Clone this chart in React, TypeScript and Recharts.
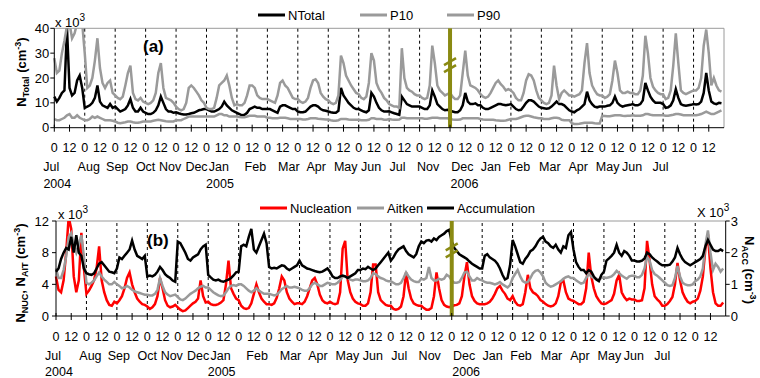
import React from "react";
import { LineChart, Line, XAxis, YAxis, ReferenceLine } from "recharts";

// 22 monthly diurnal cycles (2-hourly means), gap Aug-Oct 2005 marked by the olive break
const MONTHS = ["Jul", "Aug", "Sep", "Oct", "Nov", "Dec", "Jan", "Feb", "Mar", "Apr", "May", "Jun", "Jul", "Nov", "Dec", "Jan", "Feb", "Mar", "Apr", "May", "Jun", "Jul"];
const HOURS = [0, 2, 4, 6, 8, 10, 12, 14, 16, 18, 20, 22];
const YEARS = ["2004", "2005", "2006"];
const YEAR_MONTH = [0, 6, 14];
const BREAK_MONTH = 13;

// panel (a), x 10^3 cm-3
const N_TOTAL = [
  [12.5, 10.5, 12, 14, 15, 40, 16, 13, 14, 19, 21, 16],
  [8, 8.5, 9, 10, 12, 17, 10.5, 9, 8.5, 8, 9.5, 8],
  [8.5, 7.5, 6.5, 7, 7.5, 9, 11.5, 8, 6.5, 6.5, 8, 6.5],
  [6, 5.5, 5.5, 6, 7, 9, 12.5, 10, 7.5, 6.5, 6.5, 6],
  [6.2, 5.8, 5.5, 5.3, 5.3, 5.5, 5.8, 6, 6.5, 7, 7.2, 7.5],
  [7.5, 7, 6.5, 6.5, 7, 7.5, 8.5, 10.5, 9, 8, 7, 6.5],
  [6, 5.5, 5, 5.2, 6, 7.5, 8, 8.5, 8, 8, 7.5, 7.5],
  [7.5, 7.5, 7, 6.5, 6, 8.5, 9, 9, 8.5, 8, 7.5, 7.5],
  [6.5, 6.2, 6.2, 6.5, 7.5, 8.5, 9, 9, 8.5, 7.5, 7, 6.8],
  [6.5, 6.2, 6, 6, 6.8, 16, 13, 11.5, 10, 9, 8, 7.5],
  [7.5, 7, 6.5, 6.2, 7, 14, 12.5, 10, 8, 7, 6.5, 6.5],
  [6.6, 6.2, 5.8, 5.5, 5.2, 12.5, 11, 9.5, 9, 8.5, 8.5, 8.5],
  [8.5, 8, 7.5, 7.5, 9, 15, 12.5, 9.5, 8.5, 7.5, 7, 7.2],
  [7, 6.5, 6.2, 6.2, 7, 9, 14, 10.5, 9.5, 9.5, 9.8, 9],
  [9, 8, 7.5, 7.5, 8, 8.5, 9, 9.5, 9.5, 9.2, 9, 9.2],
  [9.5, 8.5, 7.5, 7, 7.2, 8.5, 10, 11, 11, 10.5, 9.5, 8.5],
  [8, 7.8, 7.6, 7.8, 8.5, 9.5, 10.5, 9.5, 9.5, 9, 8, 7],
  [6.5, 6.2, 7, 7.5, 8.5, 9.5, 14.5, 11, 9.5, 8.5, 8.2, 8.5],
  [8.5, 8.5, 8.8, 9, 10, 12.5, 10, 9, 8.5, 8.8, 9, 9.2],
  [9.5, 9, 9, 9.5, 11, 18, 15, 12.5, 11, 10, 10, 10],
  [9.5, 8, 8.2, 9, 11, 15.5, 12, 9.5, 9, 8.8, 9, 9.2],
  [9.5, 9.3, 9.5, 10.5, 14, 22, 15, 10.5, 9.8, 9.5, 10, 9.8],
];
const P10 = [
  [3.5, 3, 3, 3.5, 4, 5, 5.5, 4, 4, 5, 4, 3.5],
  [3, 3, 3.5, 4.5, 4, 4.5, 4, 3.5, 3, 3, 3, 2.8],
  [2.5, 2, 1.8, 2, 2.2, 2.5, 2.5, 2.2, 2, 2, 2.2, 2.5],
  [2.5, 2.5, 2.5, 2.8, 3, 3.2, 3, 2.8, 2.6, 2.5, 2.5, 2.5],
  [3, 3, 3, 3.5, 4, 4.5, 4.5, 4.5, 4.5, 4.5, 4.5, 4.5],
  [4.5, 4.5, 4.5, 4.5, 5, 5.5, 5.5, 5, 5, 4.5, 4.5, 4.5],
  [4.5, 4.3, 4.2, 4.2, 4.5, 4.8, 4.8, 4.8, 4.5, 4.5, 4.5, 4.5],
  [4, 4, 3.8, 3.8, 3.8, 4, 4, 4, 3.8, 3.5, 3.5, 3.5],
  [3.5, 3.5, 3.3, 3.3, 3.5, 3.8, 3.8, 3.8, 3.6, 3.5, 3.4, 3.3],
  [3.3, 3, 2.8, 2.8, 3, 3.5, 3.5, 3.5, 3.3, 3.2, 3.2, 3.2],
  [3.2, 3, 3, 3, 3.2, 3.8, 3.8, 3.5, 3.5, 3.5, 3.2, 3.2],
  [3.5, 3.3, 3.2, 3.2, 3.3, 4, 4, 3.8, 3.8, 3.8, 3.8, 3.8],
  [3.8, 3.8, 3.6, 3.6, 3.8, 4, 4, 4, 3.8, 3.8, 3.8, 3.8],
  [3.5, 3.3, 3.2, 3.2, 3.3, 3.8, 3.8, 3.8, 3.8, 3.8, 3.8, 3.8],
  [3.5, 3.3, 3.2, 3.2, 3.2, 3.2, 3, 2.9, 2.8, 2.8, 2.9, 3.2],
  [3.5, 3.5, 3.5, 3.8, 4.2, 4.6, 4.8, 4.8, 4.5, 4.2, 4, 3.8],
  [3.8, 3.5, 3.5, 3.5, 3.8, 4, 4, 3.8, 3.2, 3, 3, 3],
  [1.8, 1.5, 1.5, 1.6, 1.8, 2, 2, 2, 2, 1.8, 1.7, 1.7],
  [4.8, 4.7, 4.6, 4.6, 4.8, 5, 5, 5, 4.8, 4.7, 4.8, 4.8],
  [5, 4.8, 4.8, 4.8, 5, 5.5, 5.5, 5.2, 5, 5, 5, 5],
  [5, 4.8, 4.8, 5, 5.2, 5.5, 5.5, 5.3, 5, 5, 5, 5],
  [5, 5, 5.2, 5.5, 6, 6.5, 6, 5.5, 5.5, 6, 6.5, 7],
];
const P90 = [
  [28, 22, 23, 30, 35, 41, 42, 36, 38, 42, 42, 42],
  [30, 16, 17, 20, 27, 36, 24, 18, 16, 18, 19, 14],
  [13, 12, 11.5, 12.5, 17, 22, 25, 14, 11.5, 11, 12, 10.5],
  [10, 9.5, 10, 11, 14, 22, 26, 16, 12, 11.5, 11, 10],
  [8.5, 7.5, 7, 7.5, 10, 16, 17, 16, 14.5, 13, 11, 10],
  [8, 7.5, 7.5, 8, 12, 17, 18, 19, 21, 17, 12, 9],
  [9.5, 9, 9, 10, 13, 17, 17, 16, 13, 12, 11.5, 11.5],
  [11.5, 11, 10.5, 10, 13, 18, 19, 17, 16, 14, 12, 11.5],
  [11.5, 10.5, 10, 10.5, 12, 16, 19, 19.5, 18, 14, 12.5, 11.5],
  [11, 10, 9.5, 10, 13, 29, 26, 21, 19, 17, 15.5, 14],
  [13.5, 12, 11.5, 12.5, 18, 30, 27, 18, 15.5, 14, 12, 11],
  [9.5, 9, 8.5, 8.5, 8, 32, 20, 16, 15, 14.5, 13.5, 13],
  [13, 12, 11.5, 12, 17, 33, 26, 17, 15, 14, 13, 13.5],
  [14, 12.5, 11.5, 11.5, 13, 22, 31, 21, 17, 16.5, 16, 15],
  [13.5, 12.5, 12, 12.5, 14, 16, 18, 19, 17.5, 16.5, 15, 15.5],
  [15, 14, 12, 11, 11, 14, 19, 21.5, 21, 19, 15, 12],
  [11, 10, 9.5, 10, 13, 25, 17, 11.5, 14, 15, 14, 13],
  [13, 12.5, 13, 13.5, 15, 26, 34, 22, 17, 15, 13.5, 13],
  [13, 12, 12.5, 13.5, 19, 27, 22, 15, 14, 14, 14.5, 14],
  [14, 13.5, 13.5, 15, 21, 37, 30, 20, 16.5, 15, 14, 13.5],
  [13.5, 11.5, 12, 15, 25, 38, 26, 15, 14, 13.5, 14, 14.5],
  [15, 15, 16, 20, 33, 39.5, 30, 17, 20, 17, 15, 14.5],
];

// panel (b): nucleation + Aitken on left axis, accumulation on right axis (x 10^3)
const NUC = [
  [5, 3.3, 3, 4.5, 8, 12.5, 11, 5, 3, 4.5, 10.5, 6],
  [2.8, 3.2, 3.8, 4.5, 6, 8.8, 4.5, 3, 2, 1.4, 1.3, 1.8],
  [1.6, 2, 2.5, 3.5, 4.8, 5.5, 4, 3, 2.2, 1.8, 1.5, 1.4],
  [1.2, 0.9, 1.1, 1.5, 2.5, 4.8, 3.5, 2, 1.3, 1.1, 1.2, 1.4],
  [1.1, 0.8, 0.6, 0.7, 1, 1.3, 1.6, 1.8, 2.2, 4.5, 2.5, 1.7],
  [1.8, 1.5, 1.4, 1.4, 1.5, 1.7, 2, 4, 7, 3.5, 2.8, 2.2],
  [2, 1.3, 1, 0.9, 1, 1.6, 2.8, 4, 3, 2.2, 1.8, 1.5],
  [1.5, 1.4, 1.6, 2.3, 3.5, 5, 4.5, 3, 2.2, 1.8, 1.5, 1.6],
  [1.6, 1.5, 1.8, 2.5, 3.5, 4.5, 4.8, 4, 2.7, 2, 1.7, 1.6],
  [1.8, 1.6, 1.5, 1.6, 3, 8.5, 9.5, 4.5, 3, 2.2, 1.8, 1.6],
  [1.5, 1.3, 1.3, 1.6, 3, 6.5, 6.5, 3, 2, 1.7, 1.4, 1.3],
  [1.3, 0.9, 0.8, 0.9, 1.2, 2.5, 5.5, 3.5, 2.2, 1.6, 1.4, 1.3],
  [1.3, 1, 0.8, 0.8, 1, 2.5, 5.5, 3.5, 2, 1.4, 1.2, 1.1],
  [1.2, 1.35, 1.4, 1.6, 2.5, 5, 6.8, 4, 2.5, 1.9, 1.6, 1.5],
  [1.5, 1.5, 1.6, 1.8, 2.2, 2.8, 3.5, 3.8, 3.2, 2.8, 2.2, 2],
  [2.5, 1.8, 1.4, 1.3, 1.5, 3, 5.2, 3.5, 3, 2.8, 2.5, 2],
  [1.8, 1.5, 1.3, 1.2, 1.3, 1.6, 2.5, 4.2, 4.5, 3, 2.2, 2],
  [1.9, 1.7, 1.5, 1.5, 1.8, 3.5, 8, 5, 3.5, 2.5, 2, 1.6],
  [1.5, 1.6, 1.8, 2, 2.8, 4.5, 5.2, 3, 2.4, 2, 2.2, 2.1],
  [2.1, 1.9, 1.9, 2, 3.5, 9.5, 7, 4, 2.5, 2.1, 1.8, 1.3],
  [1.3, 1.5, 1.9, 2.4, 4, 6.7, 4.5, 3, 2.3, 1.8, 1.6, 1.8],
  [1.9, 2.2, 3.2, 5, 8.5, 10.3, 6, 3, 1.6, 1.3, 1.3, 1.7],
];
const AIT = [
  [6, 4.8, 4.8, 5.8, 7.5, 10, 10.5, 9, 8, 9, 10.2, 7.5],
  [4.2, 4, 4.2, 4.5, 5, 5.5, 5, 4.6, 4.3, 4, 4, 4.3],
  [4, 3.8, 3.5, 3.6, 3.8, 3.6, 3.3, 3.1, 3, 2.9, 2.8, 2.7],
  [2.7, 2.6, 2.6, 2.8, 3.3, 4.8, 3.8, 3, 2.7, 2.5, 2.6, 2.7],
  [2.4, 2.1, 2, 2.2, 2.5, 2.8, 3, 3.2, 3.5, 3.7, 3.8, 3.6],
  [3.6, 3.3, 3, 2.8, 2.6, 2.5, 2.6, 3, 3.5, 3.8, 3.9, 3.8],
  [4, 4, 3.8, 3.5, 3.2, 3, 3.2, 3.5, 3.2, 3, 2.8, 2.8],
  [2.8, 2.7, 2.6, 2.7, 3, 3.4, 3.6, 3.8, 3.6, 3.6, 3.7, 3.6],
  [3.5, 3.3, 3.2, 3.2, 3.5, 4, 4.2, 4, 3.8, 3.8, 4, 4.2],
  [4.1, 4, 4, 4.2, 4.5, 5, 5, 4.8, 4.6, 4.5, 4.6, 4.6],
  [4.5, 4.4, 4.4, 4.5, 4.8, 5.4, 5.3, 5, 4.8, 4.7, 4.5, 4.4],
  [4.4, 4.2, 4, 4, 4.2, 4.8, 5.5, 5, 4.6, 4.4, 4.3, 4.3],
  [4.7, 4.6, 4.8, 6.2, 4.8, 4.5, 4.5, 4.7, 4.6, 4.7, 5.2, 5],
  [4.5, 4.2, 4.2, 4.3, 4.8, 5.5, 5.6, 5, 4.5, 4.5, 4.8, 4.6],
  [4.5, 4.3, 4.2, 4.2, 4.1, 4, 4.1, 4.3, 4, 3.8, 3.6, 3.9],
  [4.8, 5.3, 5.8, 5, 4.4, 4.2, 4.3, 4.8, 5.4, 5.7, 5.8, 5.5],
  [5, 4.2, 3.9, 3.7, 3.8, 4, 4.2, 4.4, 4.7, 4.9, 5, 4.8],
  [4.8, 4.5, 4.3, 4.1, 4.2, 4.8, 5.3, 5, 4.8, 4.7, 4.6, 4.8],
  [4.9, 4.8, 4.9, 5, 5.3, 5.7, 5.4, 5.1, 4.9, 4.7, 5, 5.1],
  [5.1, 4.9, 4.9, 5.2, 6, 7.5, 7, 5.8, 5.3, 5.1, 4.8, 4.5],
  [4.2, 3.9, 3.8, 3.9, 4.8, 6.3, 5, 4.2, 4, 3.9, 3.9, 4],
  [4.4, 4.6, 5, 6, 9, 10.8, 8, 5.8, 6.6, 6.2, 5.6, 6],
];
const ACC = [
  [1.4, 1.5, 1.8, 2, 2.15, 2.1, 2.5, 2, 2.55, 2, 1.9, 1.5],
  [1.35, 1.32, 1.3, 1.35, 1.5, 1.65, 1.7, 1.6, 1.5, 1.4, 1.38, 1.35],
  [1.5, 1.85, 1.8, 1.9, 2, 2.1, 2.38, 2.1, 1.9, 1.85, 1.8, 1.9],
  [1.25, 1.28, 1.25, 1.3, 1.4, 1.55, 1.45, 1.32, 1.25, 1.2, 1.12, 1.08],
  [2.35, 2.3, 2.15, 2, 1.8, 1.75, 1.85, 1.9, 1.95, 2.1, 2.2, 2.25],
  [1.3, 1.22, 1.15, 1.12, 1.15, 1.1, 1.08, 1.12, 1.15, 1.2, 1.28, 1.38],
  [1.4, 2.2, 2.25, 2.2, 2.5, 2.75, 2.1, 2, 2.2, 2.4, 2.6, 2.3],
  [1.55, 1.5, 1.52, 1.5, 1.55, 1.6, 1.58, 1.5, 1.45, 1.5, 1.55, 1.6],
  [1.75, 1.6, 1.55, 1.5, 1.48, 1.45, 1.42, 1.4, 1.38, 1.4, 1.45, 1.5],
  [1.4, 1.25, 1.2, 1.2, 1.25, 1.28, 1.25, 1.2, 1.25, 1.3, 1.35, 1.45],
  [1.45, 1.5, 1.48, 1.55, 1.5, 1.45, 1.5, 1.6, 1.7, 1.8, 1.9, 2],
  [1.75, 1.85, 2, 2.1, 2.15, 2.2, 2.05, 1.95, 1.9, 1.85, 1.95, 2.2],
  [2.35, 2.3, 2.38, 2.4, 2.35, 2.45, 2.4, 2.5, 2.55, 2.6, 2.68, 2.72],
  [2.35, 2.15, 2.05, 1.95, 1.9, 1.85, 1.8, 1.72, 1.65, 1.6, 1.55, 1.5],
  [1.5, 1.9, 1.95, 1.85, 1.8, 1.75, 1.65, 1.5, 1.3, 1.15, 1.2, 1.6],
  [2.4, 2.2, 1.95, 1.7, 1.65, 1.8, 1.9, 2.05, 2.1, 2.2, 2.35, 2.45],
  [2.5, 2.35, 2.3, 2.2, 2.15, 2.25, 2.1, 2, 2.2, 2.15, 2.55, 2.65],
  [2.1, 1.7, 1.55, 1.45, 1.45, 1.35, 1.45, 1.4, 1.25, 1.15, 1.1, 1.3],
  [1.4, 1.75, 1.82, 1.9, 2, 2.25, 2, 1.9, 2.05, 2, 1.9, 1.75],
  [1.75, 1.72, 1.72, 1.75, 1.82, 2, 1.95, 1.85, 1.78, 1.72, 1.65, 1.6],
  [1.6, 1.6, 1.62, 1.72, 1.85, 2.15, 1.95, 1.8, 1.7, 1.65, 1.6, 1.65],
  [1.7, 1.75, 1.8, 1.9, 2.2, 2.4, 2.25, 2.1, 2.05, 2.05, 2.1, 2.05],
];

// Excel-style month captions drift left of the month start; pixel nudges only
const MONTH_SHIFT = [-3, 4, 2, 0, -6, -10, -18, -12, -9, -12, -13, -18, -22, -22, -18, -20, -22, -22, -24, -25, -31, -33];
const YEAR_SHIFT = [3, -17, -16];

const FONT = "Arial, 'Liberation Sans', sans-serif";
const GRAY = "#9a9a9a";
const OLIVE = "#8a8a12";
const SPAN = MONTHS.length * 24;
const X_TICKS = MONTHS.flatMap((_, m) => [m * 24, m * 24 + 12]);

const topData = MONTHS.flatMap((_, m) =>
  HOURS.map((h, i) => ({ t: m * 24 + h, nTotal: N_TOTAL[m][i], p10: P10[m][i], p90: P90[m][i] })),
);
const bottomData = MONTHS.flatMap((_, m) =>
  HOURS.map((h, i) => ({ t: m * 24 + h, nuc: NUC[m][i], ait: AIT[m][i], acc: ACC[m][i] })),
);

function HourTick(props: any) {
  const { x, y, payload } = props;
  const v = payload.value as number;
  const m = Math.floor(v / 24);
  const h = v % 24;
  const yi = YEAR_MONTH.indexOf(m);
  return (
    <g fontSize={12.5} fill="#000">
      <line x1={x} x2={x} y1={y - 3} y2={y + 4} stroke="#000" />
      <text x={x} y={y + 24.5} textAnchor="middle">
        {h}
      </text>
      {h === 0 && (
        <text x={x + MONTH_SHIFT[m]} y={y + 43.5} textAnchor="middle">
          {MONTHS[m]}
        </text>
      )}
      {h === 0 && yi >= 0 && (
        <text x={x + YEAR_SHIFT[yi]} y={y + 60} textAnchor="middle">
          {YEARS[yi]}
        </text>
      )}
    </g>
  );
}

const breakMark = (frac: number) => (props: any) => {
  const vb = props.viewBox || {};
  const cx = vb.x ?? 0;
  const cy = (vb.y ?? 0) + (vb.height ?? 0) * frac;
  return (
    <g stroke={OLIVE} strokeWidth={2.5}>
      <line x1={cx - 6} y1={cy - 1} x2={cx + 6} y2={cy - 8} />
      <line x1={cx - 6} y1={cy + 6} x2={cx + 6} y2={cy - 1} />
    </g>
  );
};

const monthLines = (yAxisId?: string) =>
  MONTHS.map((_, m) => m)
    .filter((m) => m > 0 && m !== BREAK_MONTH)
    .map((m) => (
      <ReferenceLine key={m} x={m * 24} yAxisId={yAxisId} stroke="#000" strokeDasharray="3 3" />
    ));

function Annotations() {
  const leg = (x: number, y: number, color: string, label: string) => (
    <g key={label}>
      <line x1={x} x2={x + 27} y1={y} y2={y} stroke={color} strokeWidth={3} />
      <text x={x + 30} y={y + 4.5} fontSize={13}>
        {label}
      </text>
    </g>
  );
  return (
    <svg
      width={760}
      height={378}
      style={{ position: "absolute", left: 0, top: 0, pointerEvents: "none", fontFamily: FONT }}
    >
      {leg(258, 15, "#000", "NTotal")}
      {leg(360, 15, GRAY, "P10")}
      {leg(447, 15, GRAY, "P90")}
      {leg(260, 208, "#ff0000", "Nucleation")}
      {leg(357, 208, GRAY, "Aitken")}
      {leg(427, 208, "#000", "Accumulation")}

      <text x={55} y={27} fontSize={13}>
        x 10<tspan fontSize={10} dy={-6}>3</tspan>
      </text>
      <text x={58} y={219} fontSize={13}>
        x 10<tspan fontSize={10} dy={-6}>3</tspan>
      </text>
      <text x={697} y={217} fontSize={13}>
        X 10<tspan fontSize={10} dy={-6}>3</tspan>
      </text>

      <text x={143} y={52} fontSize={17} fontWeight="bold">(a)</text>
      <text x={147} y={246} fontSize={17} fontWeight="bold">(b)</text>

      <text transform="translate(26,72) rotate(-90)" textAnchor="middle" fontSize={13} fontWeight="bold">
        N<tspan fontSize={9} dy={3}>Total</tspan>
        <tspan dy={-3}> (cm</tspan>
        <tspan fontSize={9} dy={-5}>-3</tspan>
        <tspan dy={5}>)</tspan>
      </text>
      <text transform="translate(25,273) rotate(-90)" textAnchor="middle" fontSize={13} fontWeight="bold">
        N<tspan fontSize={9} dy={3}>NUC</tspan>
        <tspan dy={-3}>, N</tspan>
        <tspan fontSize={9} dy={3}>AIT</tspan>
        <tspan dy={-3}> (cm</tspan>
        <tspan fontSize={9} dy={-5}>-3</tspan>
        <tspan dy={5}>)</tspan>
      </text>
      <text transform="translate(745,270) rotate(90)" textAnchor="middle" fontSize={13} fontWeight="bold">
        N<tspan fontSize={9} dy={3}>ACC</tspan>
        <tspan dy={-3}> (cm</tspan>
        <tspan fontSize={9} dy={-5}>-3</tspan>
        <tspan dy={5}>)</tspan>
      </text>
    </svg>
  );
}

export default function App() {
  return (
    <div
      style={{
        position: "absolute",
        left: 0,
        top: 0,
        width: 760,
        height: 378,
        background: "#fff",
        fontFamily: FONT,
        overflow: "hidden",
      }}
    >
      <div style={{ position: "absolute", left: 0, top: 0 }}>
        <LineChart width={760} height={200} data={topData} margin={{ top: 28.3, right: 36, bottom: 12.3, left: 24.3 }}>
          <XAxis
            dataKey="t"
            type="number"
            domain={[0, SPAN]}
            ticks={X_TICKS}
            interval={0}
            height={60}
            tickSize={0}
            tickMargin={0}
            tickLine={false}
            axisLine={{ stroke: "#000" }}
            tick={HourTick}
          />
          <YAxis
            domain={[0, 40]}
            ticks={[0, 10, 20, 30, 40]}
            width={30}
            allowDataOverflow
            tickSize={4}
            tickMargin={1}
            stroke="#000"
            tick={{ fontSize: 13, fill: "#000" }}
          />
          <ReferenceLine y={40} stroke={GRAY} />
          <ReferenceLine x={SPAN} stroke={GRAY} />
          {monthLines()}
          <Line dataKey="nTotal" stroke="#000" strokeWidth={2.5} dot={false} isAnimationActive={false} />
          <Line dataKey="p10" stroke={GRAY} strokeWidth={2.5} dot={false} isAnimationActive={false} />
          <Line dataKey="p90" stroke={GRAY} strokeWidth={2.5} dot={false} isAnimationActive={false} />
          <ReferenceLine x={BREAK_MONTH * 24} stroke={OLIVE} strokeWidth={4} label={breakMark(0.38)} />
        </LineChart>
      </div>
      <div style={{ position: "absolute", left: 0, top: 190 }}>
        <LineChart width={760} height={188} data={bottomData} margin={{ top: 31, right: 4.3, bottom: 2, left: 26 }}>
          <XAxis
            dataKey="t"
            type="number"
            domain={[0, SPAN]}
            ticks={X_TICKS}
            interval={0}
            height={60}
            tickSize={0}
            tickMargin={0}
            tickLine={false}
            axisLine={{ stroke: "#000" }}
            tick={HourTick}
          />
          <YAxis
            yAxisId="left"
            domain={[0, 12]}
            ticks={[0, 2, 4, 6, 8, 10, 12]}
            width={30}
            allowDataOverflow
            tickSize={4}
            tickMargin={3}
            stroke="#000"
            tick={{ fontSize: 13, fill: "#000" }}
          />
          <YAxis
            yAxisId="right"
            orientation="right"
            domain={[0, 3]}
            ticks={[0, 1, 2, 3]}
            width={30}
            allowDataOverflow
            tickSize={4}
            tickMargin={1}
            stroke="#000"
            tick={{ fontSize: 13, fill: "#000" }}
          />
          <ReferenceLine y={12} yAxisId="left" stroke={GRAY} />
          {monthLines("left")}
          <Line yAxisId="left" dataKey="nuc" stroke="#ff0000" strokeWidth={2.5} dot={false} isAnimationActive={false} />
          <Line yAxisId="left" dataKey="ait" stroke={GRAY} strokeWidth={2.5} dot={false} isAnimationActive={false} />
          <Line yAxisId="right" dataKey="acc" stroke="#000" strokeWidth={2.5} dot={false} isAnimationActive={false} />
          <ReferenceLine
            x={BREAK_MONTH * 24}
            yAxisId="left"
            stroke={OLIVE}
            strokeWidth={4}
            label={breakMark(0.32)}
          />
        </LineChart>
      </div>
      <Annotations />
    </div>
  );
}
